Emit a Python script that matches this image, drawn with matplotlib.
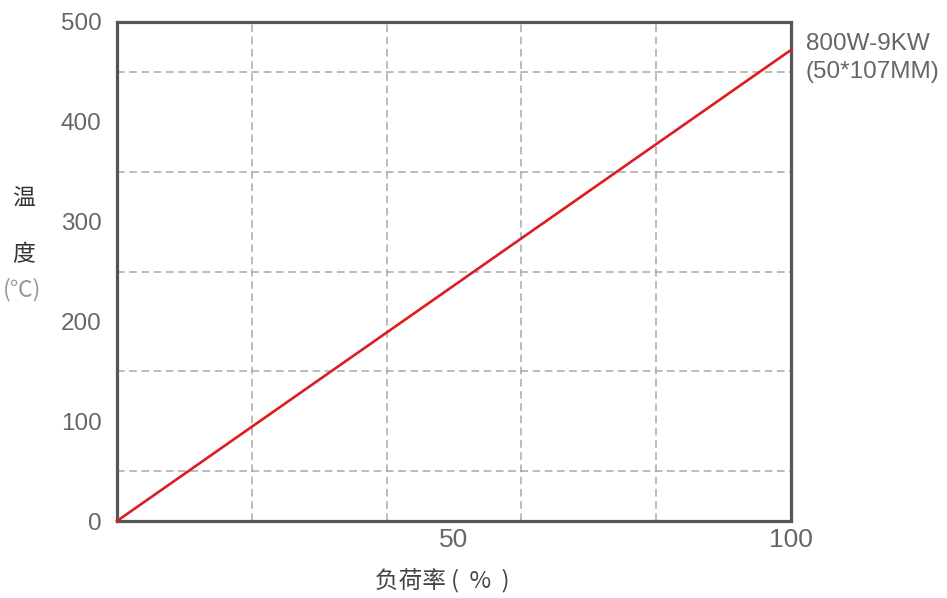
import matplotlib
matplotlib.use('Agg')
import matplotlib.pyplot as plt
from matplotlib.ticker import MultipleLocator, FixedLocator

# Données
load_pct = [0, 100]
temp_c = [0, 472]
x_ticks = [50, 100]
y_ticks = [0, 100, 200, 300, 400, 500]
series_name = '800W-9KW\n(50*107MM)'

plt.rcParams['font.family'] = ['Liberation Sans', 'Noto Sans CJK SC', 'DejaVu Sans']

fig = plt.figure(figsize=(9.47, 5.98), dpi=100)
ax = fig.add_axes([117 / 947, 1 - 521 / 598, 674 / 947, 499 / 598])

ax.plot(load_pct, temp_c, color='#dd1c1f', linewidth=1.9, zorder=3, clip_on=False)

ax.set_xlim(0, 100)
ax.set_ylim(0, 500)

# Grille en pointillés
ax.xaxis.set_major_locator(FixedLocator(x_ticks))
ax.xaxis.set_minor_locator(MultipleLocator(20))
ax.yaxis.set_major_locator(FixedLocator(y_ticks))
ax.yaxis.set_minor_locator(MultipleLocator(50))
ax.grid(False)
ax.grid(which='minor', color='#a8a8a8', linestyle=(0, (5, 3)), linewidth=1.1)
ax.tick_params(which='both', length=0)
ax.tick_params(axis='x', labelsize=19, labelcolor='#666666', pad=5)
ax.tick_params(axis='y', labelsize=17.5, labelcolor='#666666', pad=11)
for lab in ax.get_yticklabels():
    lab.set_va('center_baseline')

for s in ax.spines.values():
    s.set_color('#555555')
    s.set_linewidth(2.3)

# Nom de la série à droite
ax.text(1.022, 0.928, series_name, transform=ax.transAxes, ha='left', va='center',
        fontsize=17.5, color='#666666', linespacing=1.4)

# Titres des axes
fig.text(24 / 947, 1 - 199 / 598, '温', fontsize=16.5, color='#333333',
         family=['Noto Sans CJK SC'], ha='center', va='center')
fig.text(24 / 947, 1 - 255 / 598, '度', fontsize=16.5, color='#333333',
         family=['Noto Sans CJK SC'], ha='center', va='center')
fig.text(22 / 947, 1 - 290 / 598, '(℃)', fontsize=16.5, color='#999999',
         family=['Noto Sans CJK SC', 'DejaVu Sans'], ha='center', va='center')
fig.text(442 / 947, 1 - 581 / 598, '负荷率 (  %  )', fontsize=17, color='#444444',
         family=['Noto Sans CJK SC', 'DejaVu Sans'], ha='center', va='center')

fig.savefig('out.png', dpi=100)
